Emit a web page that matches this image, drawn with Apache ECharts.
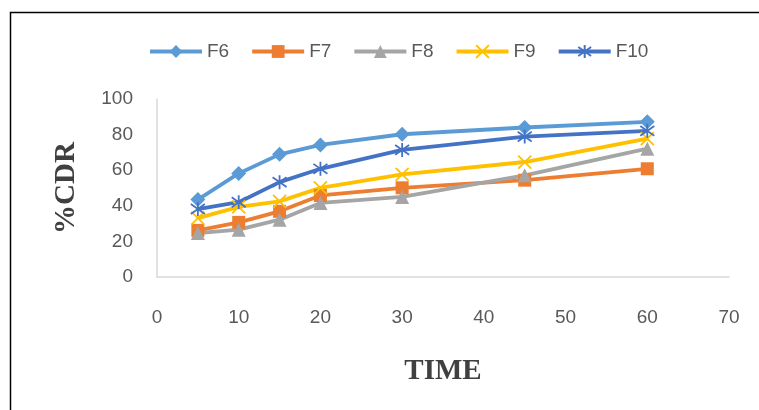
<!DOCTYPE html>
<html>
<head>
<meta charset="utf-8">
<script src="https://cdn.jsdelivr.net/npm/echarts@6/dist/echarts.min.js"></script>
<style>
  html, body { margin: 0; padding: 0; background: #fff; }
  #chart { width: 759px; height: 410px; }
</style>
</head>
<body>
<div id="chart"></div>
<script>
// Sampling times (min) and cumulative drug release (%) per formulation
var times = [5, 10, 15, 20, 30, 45, 60];
var f6 = [43.5, 58.2, 68.9, 74.2, 80.2, 84.0, 87.2];
var f7 = [26.2, 30.7, 36.9, 45.8, 50.1, 54.4, 60.8];
var f8 = [24.7, 26.6, 32.2, 41.6, 45.0, 57.1, 72.1];
var f9 = [33.1, 39.4, 42.5, 50.1, 57.6, 64.6, 77.8];
var f10 = [38.2, 42.0, 53.3, 60.8, 71.4, 78.9, 82.1];
var seriesNames = ['F6', 'F7', 'F8', 'F9', 'F10'];

var colors = ['#5B9BD5', '#ED7D31', '#A5A5A5', '#FFC000', '#4472C4'];
var labelFont = '"Liberation Sans Narrow", "Liberation Sans", sans-serif';

function pairs(vals) {
  return times.map(function (t, i) { return [t, vals[i]]; });
}

function lineSeries(name, vals, color, symbol, size, stroked) {
  var s = {
    name: name,
    type: 'line',
    data: pairs(vals),
    symbol: symbol,
    symbolSize: size,
    showAllSymbol: true,
    lineStyle: { color: color, width: 3.8 },
    itemStyle: { color: color },
    z: 2
  };
  if (stroked) {
    s.itemStyle = { color: 'rgba(0,0,0,0)', borderColor: color, borderWidth: 1.8 };
  }
  return s;
}

var chart = echarts.init(document.getElementById('chart'), null, { renderer: 'canvas' });
chart.setOption({
  animation: false,
  color: colors,
  graphic: [{
    type: 'rect',
    left: 8, top: 10,
    shape: { width: 800, height: 500 },
    style: { fill: 'none', stroke: '#000', lineWidth: 1.5 },
    z: -1
  }],
  legend: {
    data: seriesNames,
    left: 143,
    top: 37,
    itemWidth: 52,
    itemHeight: 16,
    itemGap: 21,
    lineStyle: { width: 4 },
    textStyle: { color: '#595959', fontSize: 19, fontFamily: labelFont }
  },
  grid: { left: 157, right: 30, top: 99, bottom: 133, containLabel: false },
  xAxis: {
    type: 'value',
    min: 0, max: 70, interval: 10,
    name: 'TIME',
    nameLocation: 'middle',
    nameGap: 80,
    nameTextStyle: { fontFamily: '"Liberation Serif", serif', fontWeight: 'bold', fontSize: 29, color: '#404040' },
    axisLine: { show: true, lineStyle: { color: '#D9D9D9', width: 1.5 } },
    axisTick: { show: false },
    splitLine: { show: false },
    axisLabel: { margin: 31, color: '#595959', fontSize: 19, fontFamily: labelFont }
  },
  yAxis: {
    type: 'value',
    min: 0, max: 100, interval: 20,
    name: '%CDR',
    nameLocation: 'middle',
    nameGap: 76,
    nameRotate: 90,
    nameTextStyle: { fontFamily: '"Liberation Serif", serif', fontWeight: 'bold', fontSize: 29, color: '#404040' },
    axisLine: { show: true, lineStyle: { color: '#D9D9D9', width: 1.5 } },
    axisTick: { show: false },
    splitLine: { show: false },
    axisLabel: { margin: 24, color: '#595959', fontSize: 19, fontFamily: labelFont }
  },
  series: [
    lineSeries('F6', f6, colors[0], 'diamond', 15, false),
    lineSeries('F7', f7, colors[1], 'rect', 13, false),
    lineSeries('F8', f8, colors[2], 'triangle', 14, false),
    lineSeries('F9', f9, colors[3], 'path://M0,0L10,10M10,0L0,10', 13, true),
    lineSeries('F10', f10, colors[4], 'path://M5,0L5,10M0,1.5L10,8.5M10,1.5L0,8.5', 14, true)
  ]
});
</script>
</body>
</html>
